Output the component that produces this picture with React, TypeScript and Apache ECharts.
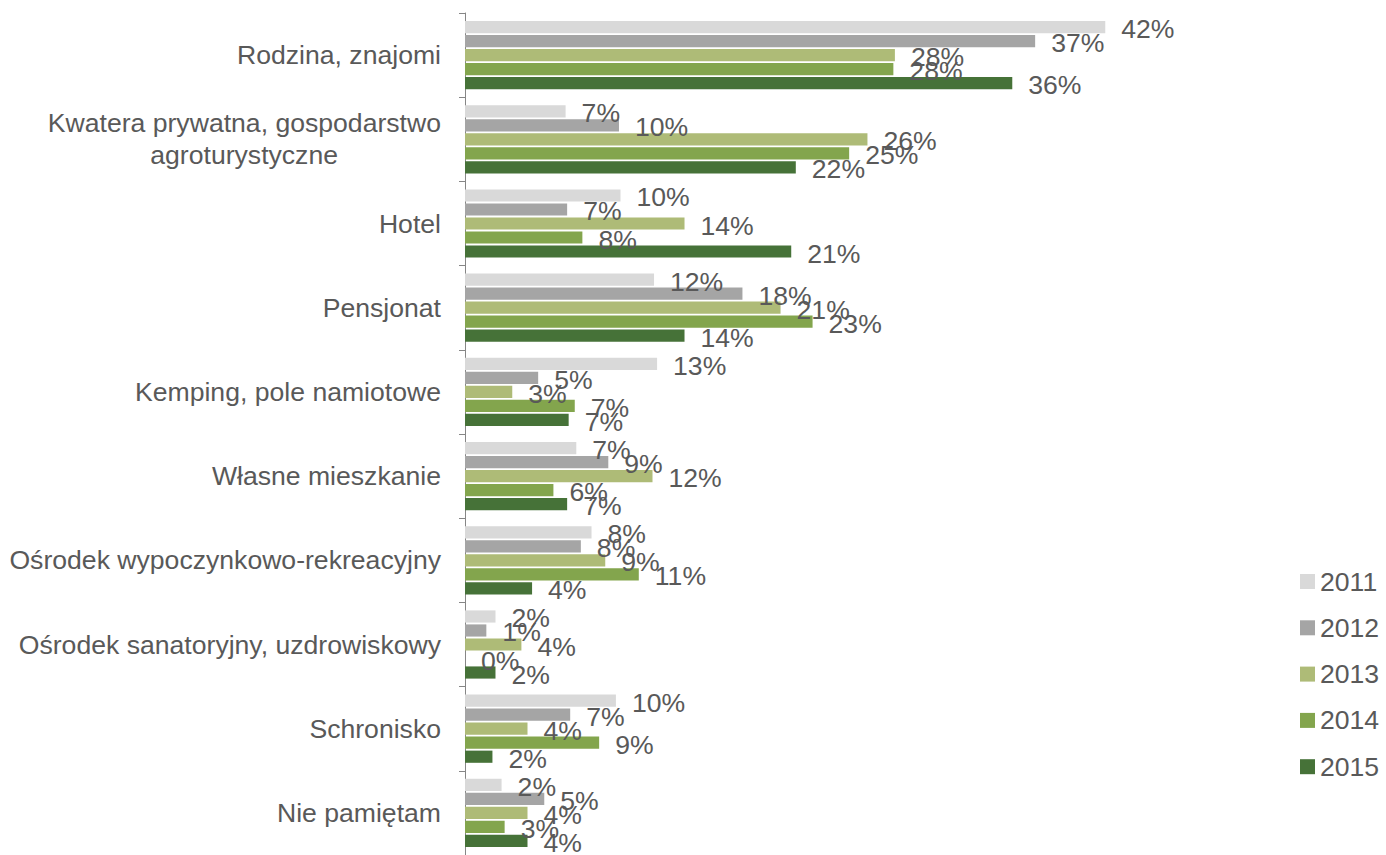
import React, { useEffect, useRef } from "react";
import * as echarts from "echarts";

const categories = [
  "Rodzina, znajomi",
  "Kwatera prywatna, gospodarstwo\nagroturystyczne",
  "Hotel",
  "Pensjonat",
  "Kemping, pole namiotowe",
  "Własne mieszkanie",
  "Ośrodek wypoczynkowo-rekreacyjny",
  "Ośrodek sanatoryjny, uzdrowiskowy",
  "Schronisko",
  "Nie pamiętam",
];

const years = ["2011", "2012", "2013", "2014", "2015"];

const v2011 = [42, 6.6, 10.2, 12.4, 12.6, 7.3, 8.3, 2.0, 9.9, 2.4];
const v2012 = [37.4, 10.1, 6.7, 18.2, 4.8, 9.4, 7.6, 1.4, 6.9, 5.2];
const v2013 = [28.2, 26.4, 14.4, 20.7, 3.1, 12.3, 9.2, 3.7, 4.1, 4.1];
const v2014 = [28.1, 25.2, 7.7, 22.8, 7.2, 5.8, 11.4, 0, 8.8, 2.6];
const v2015 = [35.9, 21.7, 21.4, 14.4, 6.8, 6.7, 4.4, 2.0, 1.8, 4.1];

const seriesValues = [v2011, v2012, v2013, v2014, v2015];
const colors = ["#D9D9D9", "#A5A5A5", "#AEBB77", "#83A54D", "#467238"];

const FONT = "'Liberation Sans', Arial, sans-serif";
const TEXT = "#595959";
const FS = 26.6;

export default function App() {
  const ref = useRef<HTMLDivElement>(null);
  useEffect(() => {
    if (!ref.current) return;
    const chart = echarts.init(ref.current, undefined, { renderer: "svg" });
    chart.setOption({
      animation: false,
      textStyle: { fontFamily: FONT },
      grid: { left: 465, top: 13, right: 235, bottom: -5, containLabel: false },
      legend: {
        orient: "vertical",
        left: 1295,
        top: 563,
        itemWidth: 15,
        itemHeight: 15,
        itemGap: 19.3,
        icon: "rect",
        textStyle: { fontSize: FS, color: TEXT, fontFamily: FONT },
        data: years,
      },
      xAxis: {
        type: "value",
        min: 0,
        max: 45,
        show: false,
        splitLine: { show: false },
      },
      yAxis: {
        type: "category",
        inverse: true,
        data: categories,
        axisLine: { show: true, lineStyle: { color: "#868686", width: 1 } },
        axisTick: { show: true, length: 6, lineStyle: { color: "#868686" } },
        axisLabel: {
          margin: 24,
          fontSize: FS,
          color: TEXT,
          fontFamily: FONT,
          lineHeight: 32,
          formatter: (val: string) => {
            if (val.indexOf("\n") >= 0) {
              const parts = val.split("\n");
              return "{a|" + parts[0] + "}\n{b|" + parts[1] + "}";
            }
            return val;
          },
          rich: {
            a: { fontSize: FS, color: TEXT, fontFamily: FONT, lineHeight: 32 },
            b: { fontSize: FS, color: TEXT, fontFamily: FONT, lineHeight: 32, padding: [0, 103, 0, 0] },
          },
        },
      },
      series: years.map((y, i) => ({
        name: y,
        type: "bar",
        data: seriesValues[i],
        barCategoryGap: "19%",
        barGap: "15%",
        itemStyle: { color: colors[i] },
        label: {
          show: true,
          position: "right",
          distance: 16,
          offset: [0, 2],
          fontSize: FS,
          color: TEXT,
          fontFamily: FONT,
          formatter: (p: any) => Math.round(p.value) + "%",
        },
      })),
    });
    return () => chart.dispose();
  }, []);
  return (
    <div
      ref={ref}
      style={{ position: "absolute", left: 0, top: 0, width: 1386, height: 855 }}
    />
  );
}
